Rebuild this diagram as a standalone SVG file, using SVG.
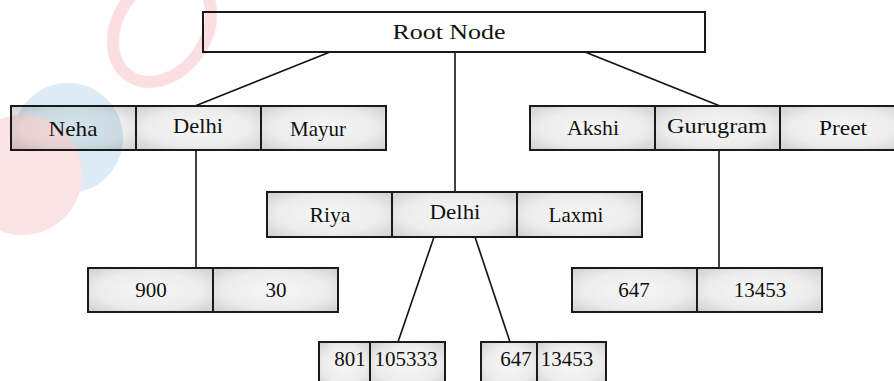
<svg xmlns="http://www.w3.org/2000/svg" width="894" height="381" viewBox="0 0 894 381">
<defs>
<radialGradient id="cellg" cx="50%" cy="50%" r="70%">
<stop offset="0" stop-color="#f7f7f7"/>
<stop offset="0.6" stop-color="#ececec"/>
<stop offset="1" stop-color="#cfcfcf"/>
</radialGradient>
</defs>
<style>
.cell{fill:url(#cellg);stroke:#1a1a1a;stroke-width:2}
.root{fill:#ffffff;stroke:#1a1a1a;stroke-width:2}
text{font-family:'Liberation Serif','DejaVu Serif',serif;font-size:21px;fill:#111;text-anchor:middle}
.edge{stroke:#111;stroke-width:1.6;fill:none}
.wm{mix-blend-mode:multiply}
</style>
<rect width="894" height="381" fill="#ffffff"/>

<g id="connectors">
<line class="edge" x1="330" y1="52" x2="195" y2="106"/>
<line class="edge" x1="455" y1="52" x2="455" y2="192"/>
<line class="edge" x1="585" y1="52" x2="720" y2="106"/>
<line class="edge" x1="196" y1="150" x2="196" y2="268"/>
<line class="edge" x1="719" y1="150" x2="719" y2="268"/>
<line class="edge" x1="434" y1="237" x2="398" y2="342"/>
<line class="edge" x1="475" y1="237" x2="510" y2="342"/>
</g>

<g id="root">
<rect class="root" x="203" y="12" width="502" height="40"/>
<text x="449" y="39" textLength="113" lengthAdjust="spacingAndGlyphs">Root Node</text>
</g>

<g id="node-left">
<rect class="cell" x="11" y="106" width="125" height="44"/>
<rect class="cell" x="136" y="106" width="125" height="44"/>
<rect class="cell" x="261" y="106" width="125" height="44"/>
<text x="73" y="136" textLength="49" lengthAdjust="spacingAndGlyphs">Neha</text>
<text x="198" y="133" textLength="50" lengthAdjust="spacingAndGlyphs">Delhi</text>
<text x="318" y="136">Mayur</text>
</g>

<g id="node-right">
<rect class="cell" x="530" y="106" width="125" height="44"/>
<rect class="cell" x="655" y="106" width="125" height="44"/>
<rect class="cell" x="780" y="106" width="125" height="44"/>
<text x="593" y="135" textLength="52" lengthAdjust="spacingAndGlyphs">Akshi</text>
<text x="717" y="133" textLength="100" lengthAdjust="spacingAndGlyphs">Gurugram</text>
<text x="843" y="135" textLength="48" lengthAdjust="spacingAndGlyphs">Preet</text>
</g>

<g id="node-middle">
<rect class="cell" x="267" y="192" width="125" height="45"/>
<rect class="cell" x="392" y="192" width="125" height="45"/>
<rect class="cell" x="517" y="192" width="125" height="45"/>
<text x="330" y="222" textLength="41" lengthAdjust="spacingAndGlyphs">Riya</text>
<text x="455" y="219" textLength="51" lengthAdjust="spacingAndGlyphs">Delhi</text>
<text x="576" y="222">Laxmi</text>
</g>

<g id="leaf-left">
<rect class="cell" x="88" y="268" width="125" height="44"/>
<rect class="cell" x="213" y="268" width="125" height="44"/>
<text x="151" y="297">900</text>
<text x="276" y="297">30</text>
</g>

<g id="leaf-right">
<rect class="cell" x="572" y="268" width="125" height="44"/>
<rect class="cell" x="697" y="268" width="125" height="44"/>
<text x="634" y="297">647</text>
<text x="760" y="297">13453</text>
</g>

<g id="leaf-mid-1">
<rect class="cell" x="319" y="342" width="51" height="45"/>
<rect class="cell" x="370" y="342" width="75" height="45"/>
<text x="350" y="366">801</text>
<text x="406" y="366">105333</text>
</g>

<g id="leaf-mid-2">
<rect class="cell" x="481" y="342" width="56" height="45"/>
<rect class="cell" x="537" y="342" width="69" height="45"/>
<text x="516" y="366">647</text>
<text x="567" y="366">13453</text>
</g>

<g id="watermark" class="wm" opacity="0.5">
<circle cx="68" cy="138" r="55" fill="#b9d6ea"/>
<circle cx="22" cy="175" r="60" fill="#f7c4c9"/>
<ellipse cx="162" cy="28" rx="44" ry="58" transform="rotate(35 162 28)" fill="none" stroke="#f5bcc2" stroke-width="12"/>
</g>
</svg>
